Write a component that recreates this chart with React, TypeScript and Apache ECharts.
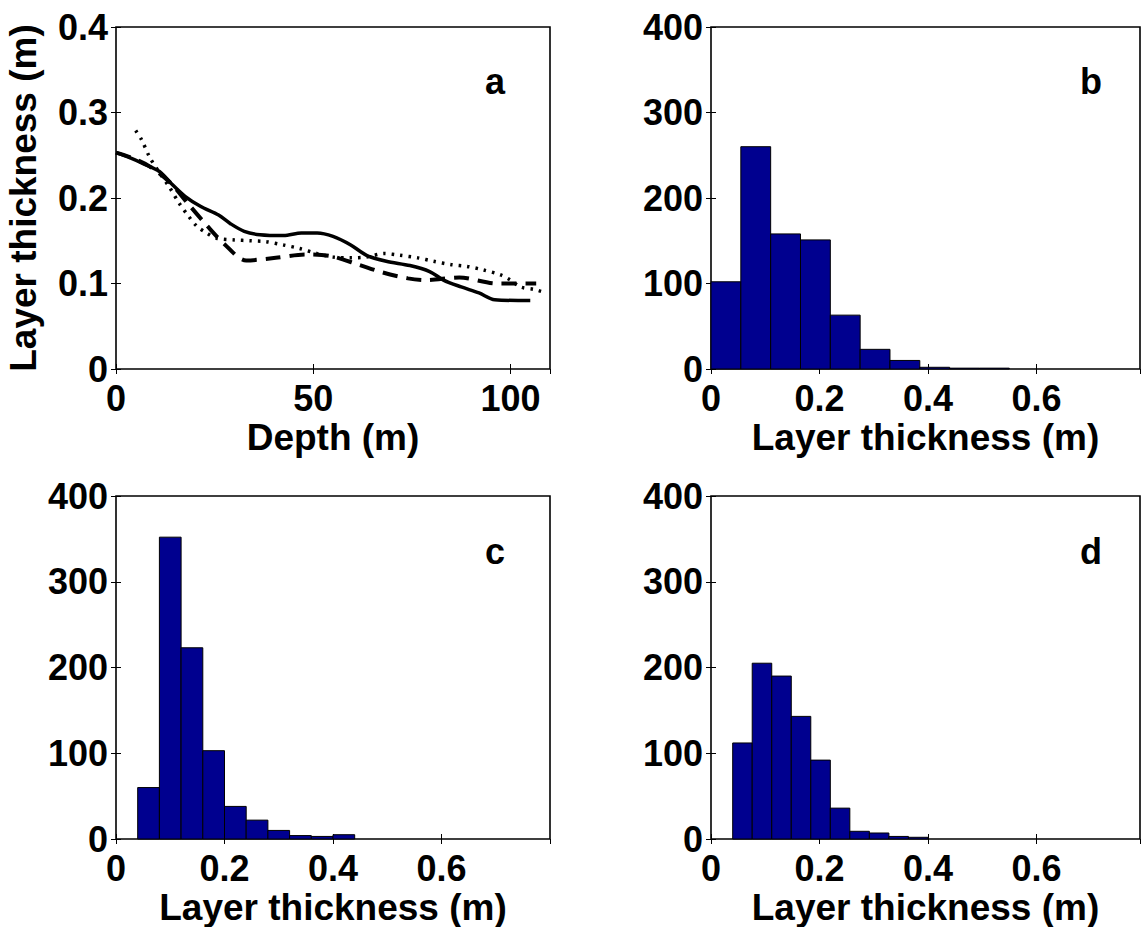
import React, { useEffect, useRef } from "react";
import * as echarts from "echarts";

// ---- Panel a: layer thickness vs depth ----
const solidDepth = [0, 3, 7, 11, 14, 17.5, 21.5, 26, 29, 32.5, 36.5, 42.5, 47, 51, 55, 59.5, 63.5, 68.5, 74.5, 79.5, 83, 87.5, 92, 96, 105];
const solidThk = [0.253, 0.248, 0.24, 0.231, 0.217, 0.202, 0.19, 0.18, 0.17, 0.161, 0.157, 0.156, 0.159, 0.159, 0.155, 0.145, 0.133, 0.126, 0.121, 0.114, 0.104, 0.096, 0.089, 0.081, 0.08];

const dashedDepth = [0, 4, 8.5, 13.5, 18.5, 23, 27.5, 33, 40.5, 48, 54.5, 61.5, 67.5, 74, 78.5, 87, 96.5, 106.5];
const dashedThk = [0.253, 0.247, 0.237, 0.219, 0.192, 0.168, 0.146, 0.127, 0.13, 0.134, 0.132, 0.122, 0.113, 0.106, 0.104, 0.107, 0.1, 0.1];

const dottedDepth = [5, 6.5, 8.5, 10.5, 13.5, 16, 18.5, 20.5, 23, 25.5, 30, 34, 38, 42.5, 46.5, 51, 55, 59.5, 63.5, 68, 72, 76.5, 80.5, 85, 89, 93, 97.5, 100, 102.5, 106, 109];
const dottedThk = [0.279, 0.268, 0.248, 0.233, 0.213, 0.194, 0.178, 0.167, 0.159, 0.153, 0.151, 0.15, 0.149, 0.145, 0.141, 0.135, 0.131, 0.13, 0.131, 0.135, 0.133, 0.13, 0.126, 0.122, 0.12, 0.116, 0.11, 0.104, 0.096, 0.093, 0.089];

// ---- Histograms ----
const edgesB = [0, 0.055, 0.11, 0.165, 0.22, 0.275, 0.33, 0.385, 0.44, 0.495, 0.55];
const countsB = [102, 260, 158, 151, 63, 23, 10, 2, 1, 1];

const edgesC = [0.04, 0.08, 0.12, 0.16, 0.2, 0.24, 0.28, 0.32, 0.36, 0.4, 0.44];
const countsC = [60, 352, 223, 103, 38, 22, 10, 4, 3, 5];

const edgesD = [0.04, 0.076, 0.112, 0.148, 0.184, 0.22, 0.256, 0.292, 0.328, 0.364, 0.4];
const countsD = [112, 205, 190, 143, 92, 36, 9, 7, 3, 2];

const depthTicks = { min: 0, max: 110, interval: 50 };
const thkTicks = { min: 0, max: 0.4, interval: 0.1 };
const countTicks = { min: 0, max: 400, interval: 100 };

const FONT = "Liberation Sans";
const FS = 36;
const FS_TITLE = 37;

function histData(edges: number[], counts: number[]) {
  return counts.map((c, i) => [edges[i], edges[i + 1], c]);
}

export default function App() {
  const ref = useRef<HTMLDivElement>(null);
  useEffect(() => {
    if (!ref.current) return;
    const chart = echarts.init(ref.current, undefined, { renderer: "svg" });

    const grids = [
      { left: 116, top: 27, width: 434, height: 342 },
      { left: 711, top: 27, width: 429, height: 342 },
      { left: 116, top: 496, width: 434, height: 343 },
      { left: 711, top: 496, width: 429, height: 343 },
    ].map((g) => ({ ...g, show: true, borderColor: "#000", borderWidth: 1.6, backgroundColor: "#fff" }));

    const labelStyle = { fontFamily: FONT, fontWeight: "bold" as const, fontSize: FS, color: "#000" };
    const titleStyle = { fontFamily: FONT, fontWeight: "bold" as const, fontSize: FS_TITLE, color: "#000" };
    const tick = { show: true, inside: true, length: 5, lineStyle: { color: "#000", width: 1 } };

    const xRanges = [
      { ...depthTicks },
      { min: 0, max: 0.791, interval: 0.2 },
      { min: 0, max: 0.8, interval: 0.2 },
      { min: 0, max: 0.791, interval: 0.2 },
    ];
    const yRanges = [thkTicks, countTicks, countTicks, countTicks];
    const xNames = ["Depth (m)", "Layer thickness (m)", "Layer thickness (m)", "Layer thickness (m)"];

    const xAxis: any[] = [];
    const yAxis: any[] = [];
    for (let i = 0; i < 4; i++) {
      xAxis.push({
        type: "value",
        gridIndex: i,
        position: "bottom",
        ...xRanges[i],
        name: xNames[i],
        nameLocation: "middle",
        nameGap: 50,
        nameTextStyle: { ...titleStyle },
        axisLine: { show: false },
        axisTick: tick,
        splitLine: { show: false },
        axisLabel: { ...labelStyle, margin: 11, showMaxLabel: false, formatter: (v: number) => String(Math.round(v * 10) / 10) },
      });
      xAxis.push({
        type: "value",
        gridIndex: i,
        position: "top",
        ...xRanges[i],
        axisLine: { show: false },
        axisTick: tick,
        splitLine: { show: false },
        axisLabel: { show: false },
      });
      yAxis.push({
        type: "value",
        gridIndex: i,
        position: "left",
        ...yRanges[i],
        name: i === 0 ? "Layer thickness (m)" : "",
        nameLocation: "middle",
        nameGap: 74,
        nameTextStyle: { ...titleStyle },
        axisLine: { show: false },
        axisTick: tick,
        splitLine: { show: false },
        axisLabel: { ...labelStyle, margin: 8 },
      });
      yAxis.push({
        type: "value",
        gridIndex: i,
        position: "right",
        ...yRanges[i],
        axisLine: { show: false },
        axisTick: tick,
        splitLine: { show: false },
        axisLabel: { show: false },
      });
    }

    const zipLine = (xs: number[], ys: number[]) => xs.map((x, i) => [x, ys[i]]);

    const histSeries = (idx: number, edges: number[], counts: number[]) => ({
      type: "custom",
      xAxisIndex: idx * 2,
      yAxisIndex: idx * 2,
      encode: { x: [0, 1], y: 2 },
      data: histData(edges, counts),
      renderItem: (_p: any, api: any) => {
        const a = api.coord([api.value(0), api.value(2)]);
        const b = api.coord([api.value(1), 0]);
        return {
          type: "rect",
          shape: { x: a[0], y: a[1], width: b[0] - a[0], height: b[1] - a[1] },
          style: { fill: "#00008F", stroke: "#000", lineWidth: 1 },
        };
      },
    });

    const option: any = {
      animation: false,
      backgroundColor: "#fff",
      grid: grids,
      xAxis,
      yAxis,
      series: [
        {
          type: "line",
          xAxisIndex: 0,
          yAxisIndex: 0,
          data: zipLine(dottedDepth, dottedThk),
          showSymbol: false,
          smooth: 0.3,
          lineStyle: { color: "#000", width: 3.5, type: [2.5, 6], cap: "butt" },
        },
        {
          type: "line",
          xAxisIndex: 0,
          yAxisIndex: 0,
          data: zipLine(dashedDepth, dashedThk),
          showSymbol: false,
          smooth: 0.3,
          lineStyle: { color: "#000", width: 4, type: [15, 9] },
        },
        {
          type: "line",
          xAxisIndex: 0,
          yAxisIndex: 0,
          data: zipLine(solidDepth, solidThk),
          showSymbol: false,
          smooth: 0.3,
          lineStyle: { color: "#000", width: 3.5, type: "solid" },
        },
        histSeries(1, edgesB, countsB),
        histSeries(2, edgesC, countsC),
        histSeries(3, edgesD, countsD),
      ],
      graphic: [
        { t: "a", x: 495, y: 81 },
        { t: "b", x: 1091, y: 81 },
        { t: "c", x: 495, y: 551 },
        { t: "d", x: 1091, y: 551 },
      ].map((l) => ({
        type: "text",
        x: l.x,
        y: l.y,
        style: {
          text: l.t,
          fill: "#000",
          fontFamily: FONT,
          fontWeight: "bold",
          fontSize: FS,
          align: "center",
          verticalAlign: "middle",
        },
      })),
    };
    chart.setOption(option);
    return () => chart.dispose();
  }, []);

  return (
    <div
      ref={ref}
      style={{ position: "absolute", left: 0, top: 0, width: 1141, height: 927, background: "#fff" }}
    />
  );
}
